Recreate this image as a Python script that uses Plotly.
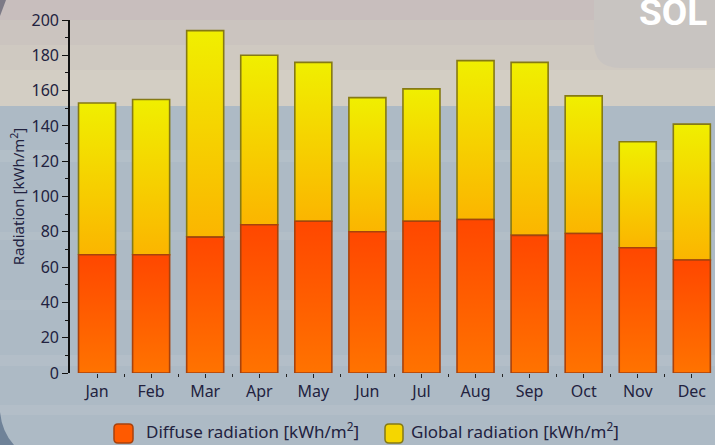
import plotly.graph_objects as go

# Monthly solar radiation, kWh/m²
months = ["Jan", "Feb", "Mar", "Apr", "May", "Jun", "Jul", "Aug", "Sep", "Oct", "Nov", "Dec"]
diffuse = [67, 67, 77, 84, 86, 80, 86, 87, 78, 79, 71, 64]
global_rad = [153, 155, 194, 180, 176, 156, 161, 177, 176, 157, 131, 141]

W, H = 715, 445
ML, MR, MT, MB = 70, 1, 20, 72
PW = W - ML - MR
PH = H - MT - MB
BAR_W = 0.685
FONT = "Noto Sans"
TXT = "#22223f"


def px(x):
    """pixel x -> paper x"""
    return (x - ML) / PW


def py(y):
    """pixel y (from top) -> paper y"""
    return (H - MB - y) / PH


fig = go.Figure()

for i, (d, g) in enumerate(zip(diffuse, global_rad)):
    x0, x1 = i - BAR_W / 2, i + BAR_W / 2
    # global radiation bar (upper part, above the diffuse share)
    fig.add_trace(go.Scatter(
        x=[x0, x0, x1, x1, x0], y=[d, g, g, d, d],
        mode="lines", fill="toself",
        line=dict(color="#857a14", width=1.6),
        fillgradient=dict(type="vertical",
                          colorscale=[[0, "#fbb500"], [1, "#f0ef00"]],
                          start=d, stop=g),
        showlegend=False, hoverinfo="skip",
    ))
    # diffuse radiation bar
    fig.add_trace(go.Scatter(
        x=[x0, x0, x1, x1, x0], y=[0, d, d, 0, 0],
        mode="lines", fill="toself",
        line=dict(color="#a8420c", width=1.6),
        fillgradient=dict(type="vertical",
                          colorscale=[[0, "#ff7300"], [1, "#ff4700"]],
                          start=0, stop=d),
        showlegend=False, hoverinfo="skip",
    ))

shapes = []


def band(y0, y1, color, x0=0, x1=W):
    shapes.append(dict(type="rect", xref="paper", yref="paper",
                       x0=px(x0), x1=px(x1), y0=py(y1), y1=py(y0),
                       fillcolor=color, line=dict(width=0), layer="below"))


# backdrop
band(0, 20, "#c8bebd")
band(20, 45, "#cbc4bf")
band(45, 70, "#cfc9c1")
band(70, 106, "#d3cec4")
band(106, H, "#adbac5")
band(150, 162, "#b3bfc8")
band(232, 240, "#b2bec7")
band(300, 310, "#b1bdc7")
band(355, 366, "#b3bec8")
band(405, 415, "#b3bec8")

# rounded panel in the top-right corner
r = 26
x0p, y1p = 594, 68
path = (f"M {px(x0p)},{py(0)} L {px(x0p)},{py(y1p - r)} "
        f"Q {px(x0p)},{py(y1p)} {px(x0p + r)},{py(y1p)} "
        f"L {px(W)},{py(y1p)} L {px(W)},{py(0)} Z")
shapes.append(dict(type="path", xref="paper", yref="paper", path=path,
                   fillcolor="#c8c4c1", line=dict(width=0), layer="below"))

# dark corner edges
path2 = (f"M {px(0)},{py(412)} Q {px(2)},{py(432)} {px(14)},{py(H)} "
         f"L {px(0)},{py(H)} Z")
shapes.append(dict(type="path", xref="paper", yref="paper", path=path2,
                   fillcolor="#6f8298", line=dict(width=0), layer="below"))
path3 = f"M {px(0)},{py(0)} L {px(6)},{py(0)} L {px(0)},{py(16)} Z"
shapes.append(dict(type="path", xref="paper", yref="paper", path=path3,
                   fillcolor="#7d7a86", line=dict(width=0), layer="below"))


# legend swatches
def swatch(x0, x1, y0, y1, fill, edge):
    rr = 4
    p = (f"M {px(x0 + rr)},{py(y0)} L {px(x1 - rr)},{py(y0)} "
         f"Q {px(x1)},{py(y0)} {px(x1)},{py(y0 + rr)} "
         f"L {px(x1)},{py(y1 - rr)} Q {px(x1)},{py(y1)} {px(x1 - rr)},{py(y1)} "
         f"L {px(x0 + rr)},{py(y1)} Q {px(x0)},{py(y1)} {px(x0)},{py(y1 - rr)} "
         f"L {px(x0)},{py(y0 + rr)} Q {px(x0)},{py(y0)} {px(x0 + rr)},{py(y0)} Z")
    shapes.append(dict(type="path", xref="paper", yref="paper", path=p,
                       fillcolor=fill, line=dict(color=edge, width=1.5),
                       layer="above"))


swatch(114, 133, 424, 443, "#ff5a00", "#a8420c")
swatch(385, 403, 424, 443, "#f5d600", "#857a14")

annotations = [
    dict(text="Diffuse radiation [kWh/m<sup>2</sup>]", xref="paper", yref="paper",
         x=px(144), y=py(430), xanchor="left", yanchor="middle", showarrow=False,
         font=dict(family=FONT, size=17, color=TXT)),
    dict(text="Global radiation [kWh/m<sup>2</sup>]", xref="paper", yref="paper",
         x=px(409), y=py(430), xanchor="left", yanchor="middle", showarrow=False,
         font=dict(family=FONT, size=17, color=TXT)),
    dict(text="<b>SOL</b>", xref="paper", yref="paper",
         x=px(637), y=py(12), xanchor="left", yanchor="middle", showarrow=False,
         font=dict(family="Roboto", size=37, color="#ffffff")),
]

fig.update_layout(
    width=W, height=H,
    margin=dict(l=ML, r=MR, t=MT, b=MB),
    paper_bgcolor="#adbac5",
    plot_bgcolor="rgba(0,0,0,0)",
    showlegend=False,
    shapes=shapes,
    annotations=annotations,
    font=dict(family=FONT, color=TXT),
)

fig.update_xaxes(
    range=[-0.5, 11.41],
    tickmode="array", tickvals=list(range(len(months))), ticktext=months,
    ticks="outside", ticklen=4, tickwidth=1, tickcolor="#222",
    minor=dict(tickmode="array", tickvals=[i + 0.5 for i in range(len(months))],
               ticks="outside", ticklen=3, tickcolor="#222"),
    showline=False, showgrid=False, zeroline=False,
    tickfont=dict(family=FONT, size=16, color=TXT),
)

fig.update_yaxes(
    range=[0, 200], dtick=20,
    ticks="outside", ticklen=6, tickwidth=1.2, tickcolor="#111",
    minor=dict(dtick=10, ticks="outside", ticklen=3, tickcolor="#111"),
    showline=True, linecolor="#111", linewidth=1.6,
    showgrid=False, zeroline=False,
    tickfont=dict(family=FONT, size=16, color=TXT),
    title=dict(text="Radiation [kWh/m<sup>2</sup>]", standoff=3,
               font=dict(family=FONT, size=15, color=TXT)),
)

fig.write_html("out.html")
